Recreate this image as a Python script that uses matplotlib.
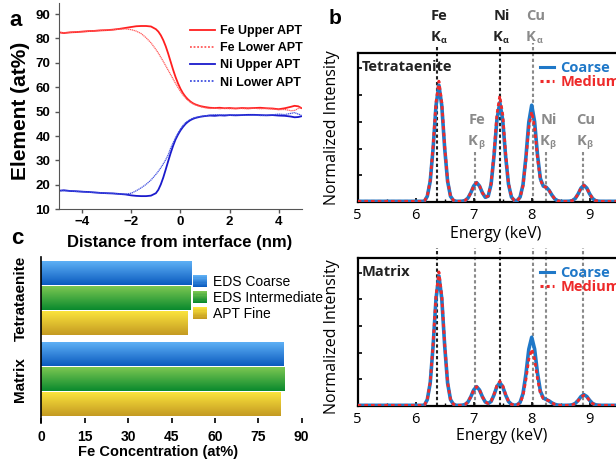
import numpy as np
import matplotlib
matplotlib.use("Agg")
import matplotlib.pyplot as plt
from matplotlib.lines import Line2D
from matplotlib.patches import Rectangle
from matplotlib.legend_handler import HandlerBase
from matplotlib.colors import LinearSegmentedColormap, to_rgb
from matplotlib.transforms import blended_transform_factory

plt.rcParams['font.family'] = ['Liberation Sans', 'DejaVu Sans']

# ---------------- panel a: APT concentration profiles ----------------
dist = [-4.95, -4.75, -4.5, -4.25, -4.0, -3.75, -3.5, -3.25, -3.0, -2.75, -2.5, -2.25,
        -2.0, -1.8, -1.6, -1.4, -1.2, -1.0, -0.9, -0.8, -0.7, -0.6, -0.5, -0.4, -0.3,
        -0.2, -0.1, 0.0, 0.1, 0.2, 0.3, 0.4, 0.5, 0.6, 0.8, 1.0, 1.2, 1.4, 1.6, 1.8,
        2.0, 2.25, 2.5, 2.75, 3.0, 3.25, 3.5, 3.75, 4.0, 4.25, 4.5, 4.65, 4.8, 4.92]
fe_upper = [82.5, 82.2, 82.5, 82.6, 82.8, 83.0, 83.1, 83.3, 83.4, 83.6, 83.9, 84.3,
            84.7, 85.0, 85.1, 85.1, 84.9, 83.8, 82.8, 81.3, 79.3, 76.8, 73.8, 70.5, 67.2,
            64.2, 61.6, 59.4, 57.6, 56.2, 55.1, 54.2, 53.5, 53.0, 52.3, 51.9, 51.6, 51.5,
            51.6, 51.4, 51.5, 51.3, 51.5, 51.4, 51.5, 51.6, 51.4, 51.3, 51.0, 51.4, 52.0,
            52.4, 52.2, 51.5]
fe_lower = [82.5, 82.3, 82.4, 82.7, 82.8, 82.9, 83.2, 83.3, 83.4, 83.6, 83.8, 83.9,
            83.6, 83.0, 82.0, 80.3, 78.2, 75.5, 74.0, 72.3, 70.6, 68.8, 67.0, 65.2, 63.4,
            61.6, 59.9, 58.3, 56.9, 55.7, 54.7, 53.9, 53.3, 52.8, 52.1, 51.6, 51.3, 51.5,
            51.2, 51.4, 51.2, 51.4, 51.3, 51.2, 51.4, 51.2, 51.3, 51.1, 50.8, 50.9, 50.4,
            50.5, 51.3, 51.8]
ni_upper = [17.6, 17.8, 17.5, 17.4, 17.2, 17.1, 16.9, 16.7, 16.6, 16.5, 16.3, 16.1,
            15.7, 15.5, 15.4, 15.4, 15.6, 16.6, 18.0, 20.2, 23.0, 26.3, 29.7, 33.0, 36.0,
            38.6, 40.6, 42.3, 43.7, 44.9, 45.8, 46.5, 47.0, 47.4, 47.9, 48.2, 48.4, 48.3,
            48.5, 48.4, 48.6, 48.5, 48.6, 48.7, 48.7, 48.6, 48.5, 48.6, 48.4, 48.3, 48.0,
            47.7, 47.8, 48.1]
ni_lower = [17.7, 17.6, 17.6, 17.3, 17.3, 17.0, 16.9, 16.8, 16.5, 16.5, 16.3, 16.2,
            16.6, 17.6, 18.8, 20.2, 22.0, 24.3, 25.6, 27.0, 28.6, 30.3, 32.3, 35.0, 37.2,
            39.3, 41.2, 42.9, 44.3, 45.4, 46.2, 46.8, 47.3, 47.6, 48.0, 48.3, 48.6, 48.8,
            48.6, 48.7, 48.5, 48.7, 48.6, 48.5, 48.6, 48.4, 48.5, 48.7, 49.0, 48.8, 49.3,
            49.6, 49.0, 48.6]
apt_labels = ['Fe Upper APT', 'Fe Lower APT', 'Ni Upper APT', 'Ni Lower APT']

# ---------------- panel b: EDS spectra ----------------
energy = np.round(np.arange(6.0, 9.2001, 0.05), 2)
tet_coarse = [0.005, 0.005, 0.005, 0.006, 0.043, 0.155, 0.400, 0.720, 0.875, 0.720, 0.400, 0.155, 0.043,
              0.012, 0.005, 0.005, 0.006, 0.011, 0.029, 0.069, 0.120, 0.145, 0.120, 0.069, 0.035, 0.044,
              0.133, 0.344, 0.614, 0.745, 0.614, 0.344, 0.133, 0.038, 0.011, 0.011, 0.037, 0.129, 0.335,
              0.598, 0.725, 0.602, 0.352, 0.175, 0.119, 0.111, 0.087, 0.051, 0.022, 0.009, 0.005, 0.005,
              0.005, 0.006, 0.010, 0.026, 0.060, 0.104, 0.125, 0.104, 0.060, 0.026, 0.010, 0.006, 0.005]
tet_medium = [0.005, 0.005, 0.005, 0.006, 0.045, 0.160, 0.417, 0.746, 0.905, 0.746, 0.417, 0.160, 0.045,
              0.012, 0.005, 0.005, 0.006, 0.011, 0.029, 0.069, 0.120, 0.145, 0.120, 0.069, 0.035, 0.046,
              0.141, 0.367, 0.655, 0.795, 0.655, 0.367, 0.141, 0.040, 0.011, 0.010, 0.034, 0.120, 0.312,
              0.556, 0.675, 0.560, 0.329, 0.166, 0.116, 0.110, 0.087, 0.051, 0.022, 0.009, 0.005, 0.005,
              0.005, 0.006, 0.010, 0.026, 0.060, 0.104, 0.125, 0.104, 0.060, 0.026, 0.010, 0.006, 0.005]
mat_coarse = [0.005, 0.005, 0.005, 0.006, 0.048, 0.172, 0.449, 0.803, 0.975, 0.803, 0.449, 0.172, 0.048,
              0.013, 0.005, 0.005, 0.006, 0.011, 0.029, 0.069, 0.120, 0.145, 0.120, 0.069, 0.030, 0.019,
              0.034, 0.083, 0.145, 0.175, 0.145, 0.083, 0.034, 0.013, 0.006, 0.009, 0.027, 0.093, 0.239,
              0.425, 0.515, 0.427, 0.246, 0.111, 0.060, 0.049, 0.038, 0.023, 0.012, 0.007, 0.005, 0.005,
              0.005, 0.006, 0.009, 0.019, 0.042, 0.071, 0.085, 0.071, 0.042, 0.019, 0.009, 0.006, 0.005]
mat_medium = [0.005, 0.005, 0.005, 0.006, 0.049, 0.177, 0.463, 0.828, 1.005, 0.828, 0.463, 0.177, 0.049,
              0.013, 0.005, 0.005, 0.006, 0.011, 0.029, 0.069, 0.120, 0.145, 0.120, 0.069, 0.030, 0.019,
              0.036, 0.087, 0.153, 0.185, 0.153, 0.087, 0.036, 0.013, 0.006, 0.008, 0.023, 0.077, 0.197,
              0.351, 0.425, 0.353, 0.204, 0.095, 0.056, 0.048, 0.038, 0.023, 0.012, 0.007, 0.005, 0.005,
              0.005, 0.006, 0.009, 0.018, 0.039, 0.067, 0.080, 0.067, 0.039, 0.018, 0.008, 0.006, 0.005]
line_energy = [6.37, 7.02, 7.45, 8.02, 8.25, 8.89]
line_element = ['Fe', 'Fe', 'Ni', 'Cu', 'Ni', 'Cu']
line_kind = ['α', 'β', 'α', 'α', 'β', 'β']

# ---------------- panel c: Fe concentration ----------------
groups = ['Tetrataenite', 'Matrix']
methods = ['EDS Coarse', 'EDS Intermediate', 'APT Fine']
fe_conc = {'Tetrataenite': [52.0, 51.6, 50.6], 'Matrix': [83.8, 84.2, 82.9]}

BLUE = '#1f78c8'
RED = '#ee2a2a'
GRAY = '#8a8a8a'
DARK = '#222222'
grad_colors = [('#5eb0f5', '#0b5bbf'), ('#7cc752', '#0a8a2e'), ('#fbe43c', '#c49a22')]

fig = plt.figure(figsize=(6.16, 4.59), dpi=100)


def box(l, t, r, b):
    return fig.add_axes([l / 616, 1 - b / 459, (r - l) / 616, (b - t) / 459])


# ---- a ----
ax = box(58.7, 3.3, 301.7, 209.3)
ax.plot(dist, fe_upper, color='#ff1f1f', lw=1.3)
ax.plot(dist, fe_lower, color='#ff5a5a', lw=0.9, ls=(0, (1, 0.5)))
ax.plot(dist, ni_upper, color='#1a1acc', lw=1.3)
ax.plot(dist, ni_lower, color='#4050e0', lw=0.9, ls=(0, (1, 0.5)))
ax.set_xlim(-4.96, 4.94)
ax.set_ylim(10, 94.4)
ax.set_xticks([-4, -2, 0, 2, 4])
ax.set_yticks(range(10, 91, 10))
for s in ['top', 'right']:
    ax.spines[s].set_visible(False)
for s in ['left', 'bottom']:
    ax.spines[s].set_color('#555555')
ax.tick_params(direction='out', length=3, width=1, color='#555555', labelsize=9.5)
ax.tick_params(axis='x', pad=1.5)
ax.tick_params(axis='y', pad=3)
for lbl in ax.get_xticklabels() + ax.get_yticklabels():
    lbl.set_fontweight('bold')
ax.set_xlabel('Distance from interface (nm)', fontsize=12, fontweight='bold')
ax.xaxis.set_label_coords(0.497, -0.159)
ax.xaxis.label.set_va('center')
ax.set_ylabel('Element (at%)', fontsize=15, fontweight='bold')
ax.yaxis.set_label_coords(-0.157, 0.477)
ax.yaxis.label.set_va('center')
handles = [Line2D([], [], color='#ff1f1f', lw=1.3),
           Line2D([], [], color='#ff5a5a', lw=1.3, ls=(0, (1, 1))),
           Line2D([], [], color='#1a1acc', lw=1.3),
           Line2D([], [], color='#4050e0', lw=1.3, ls=(0, (1, 1)))]
ax.legend(handles, apt_labels, loc='upper left', bbox_to_anchor=(0.54, 0.895),
          frameon=False, prop=dict(weight='bold', size=9), handlelength=2.0,
          handletextpad=0.4, labelspacing=0.42, borderpad=0, borderaxespad=0)
fig.text(16 / 616, 1 - 21 / 459, 'a', fontsize=16, fontweight='bold', ha='center', va='center')


# ---- b ----
def spectrum(ax, coarse, medium, name, top):
    e = np.concatenate(([5.0], energy, [10.0]))
    c = np.concatenate(([0.005], coarse, [0.005]))
    m = np.concatenate(([0.005], medium, [0.005]))
    ax.plot(e, c, color=BLUE, lw=2.6, zorder=3, solid_capstyle='butt')
    ax.plot(e, m, color=RED, lw=2.0, ls=(0, (1.3, 1.1)), zorder=4)
    ax.set_xlim(5, 10)
    ax.set_xticks([5, 6, 7, 8, 9])
    ax.set_xticks(np.arange(5.5, 10, 1.0), minor=True)
    ax.set_yticks([0.2, 0.4, 0.6, 0.8, 1.0])
    ax.set_yticklabels([])
    ax.spines['right'].set_visible(False)
    for s in ['left', 'top', 'bottom']:
        ax.spines[s].set_linewidth(1.6)
    ax.tick_params(direction='in', length=3, width=1.2, labelsize=10.5, pad=4)
    ax.tick_params(which='minor', direction='in', length=2.5, width=1.0)
    for lbl in ax.get_xticklabels():
        lbl.set_family('Open Sans')
    blend = blended_transform_factory(ax.transData, ax.transAxes)
    for x, el, kind in zip(line_energy, line_element, line_kind):
        col = DARK if (kind == 'α' and el != 'Cu') else GRAY
        if top:
            ymax = 0.336 if kind == 'β' else (1.067 if el == 'Cu' else 1.054)
        else:
            ymax = 1.068
        ax.axvline(x, ymin=0, ymax=ymax, color=col, lw=1.5, ls=(0, (1.6, 1.2)),
                   clip_on=False, zorder=1)
        if top:
            y1, y2 = (1.25, 1.11) if kind == 'α' else (0.55, 0.41)
            ax.text(x + 0.04, y1, el, transform=blend, ha='center', va='center', color=col,
                    family='Open Sans', fontweight='bold', fontsize=10.5)
            ax.annotate('K', (x, y2), xycoords=blend, xytext=(-1.5, 0), textcoords='offset points',
                        ha='center', va='center', color=col, family='Open Sans',
                        fontweight='bold', fontsize=10.5)
            ax.annotate(kind, (x, y2), xycoords=blend, xytext=(4.5, -2.5), textcoords='offset points',
                        ha='center', va='center', color=col, family='Open Sans',
                        fontweight='bold', fontsize=6.5)
    ax.text(0.015, 0.906, name, transform=ax.transAxes, ha='left', va='center', color=DARK,
            family='Open Sans', fontweight='bold', fontsize=10.5)
    h1 = Line2D([], [], color=BLUE, lw=2.2)
    h2 = Line2D([], [], color=RED, lw=2.2, ls=(0, (1, 1)))
    leg = ax.legend([h1, h2], ['Coarse', 'Medium'], loc='upper left', bbox_to_anchor=(0.628, 0.943),
                    frameon=False, prop=dict(family='Open Sans', weight='bold', size=10.5),
                    handlelength=1.0, handletextpad=0.4, labelspacing=0.0, borderpad=0,
                    borderaxespad=0)
    for t, col in zip(leg.get_texts(), [BLUE, RED]):
        t.set_color(col)
    ax.set_xlabel('Energy (keV)', family='Open Sans', fontsize=11.5)
    ax.xaxis.label.set_va('center')
    ax.set_ylabel('Normalized Intensity', family='Open Sans', fontsize=11.5)
    ax.yaxis.label.set_va('center')


axb1 = box(357.7, 53, 647.7, 202)
spectrum(axb1, tet_coarse, tet_medium, 'Tetrataenite', True)
axb1.set_ylim(0, 1.116)
axb1.xaxis.set_label_coords(0.477, -0.215)
axb1.yaxis.set_label_coords(-0.089, 0.497)

axb2 = box(357.7, 258, 647.7, 406)
spectrum(axb2, mat_coarse, mat_medium, 'Matrix', False)
axb2.set_ylim(0, 1.109)
axb2.xaxis.set_label_coords(0.497, -0.20)
axb2.yaxis.set_label_coords(-0.089, 0.47)
fig.text(335 / 616, 1 - 18 / 459, 'b', fontsize=15, fontweight='bold', ha='center', va='center')


# ---- c ----
class GradSwatch:
    def __init__(self, top, bottom):
        self.top = top
        self.bottom = bottom


class GradHandler(HandlerBase):
    def create_artists(self, legend, orig, xd, yd, w, h, fs, trans):
        c1 = np.array(to_rgb(orig.top))
        c2 = np.array(to_rgb(orig.bottom))
        n = 10
        arts = []
        for k in range(n):
            f = k / (n - 1)
            col = c2 * (1 - f) + c1 * f
            arts.append(Rectangle((-xd, -yd + h * k / n), w, h / n * 1.05, facecolor=col,
                                  edgecolor='none', transform=trans))
        return arts


axc = box(41.3, 257, 301.7, 423)
bar_h = 0.93
group_start = [0.0, 3.26]
for g, start in zip(groups, group_start):
    for i, val in enumerate(fe_conc[g]):
        y = start + i
        top_c, bot_c = grad_colors[i]
        cmap = LinearSegmentedColormap.from_list('g%d' % i, [top_c, bot_c])
        axc.imshow(np.linspace(0, 1, 64).reshape(-1, 1), cmap=cmap, aspect='auto',
                   extent=[0, val, y + bar_h / 2, y - bar_h / 2], interpolation='bilinear')
axc.set_xlim(0, 90)
axc.set_ylim(5.99, -0.65)
axc.set_xticks(range(0, 91, 15))
axc.set_yticks([start + 1 for start in group_start])
axc.set_yticklabels(groups, rotation=90, va='center', fontsize=11, fontweight='bold')
for s in ['top', 'right', 'bottom']:
    axc.spines[s].set_visible(False)
axc.spines['left'].set_linewidth(1.2)
axc.tick_params(axis='x', direction='in', length=3.5, width=1.2, labelsize=10, pad=5)
axc.tick_params(axis='y', length=0, pad=10)
for lbl in axc.get_xticklabels():
    lbl.set_fontweight('bold')
axc.set_xlabel('Fe Concentration (at%)', fontsize=10.5, fontweight='bold')
axc.xaxis.set_label_coords(0.448, -0.172)
axc.xaxis.label.set_va('center')
swatches = [GradSwatch(t, b) for t, b in grad_colors]
axc.legend(swatches, methods, handler_map={GradSwatch: GradHandler()}, loc='upper left',
           bbox_to_anchor=(0.583, 0.892), frameon=False, fontsize=10, handlelength=1.0,
           handleheight=1.0, handletextpad=0.45, labelspacing=0.13, borderpad=0,
           borderaxespad=0)
fig.text(17 / 616, 1 - 238 / 459, 'c', fontsize=16, fontweight='bold', ha='center', va='center')

fig.savefig('out.png', dpi=100)
